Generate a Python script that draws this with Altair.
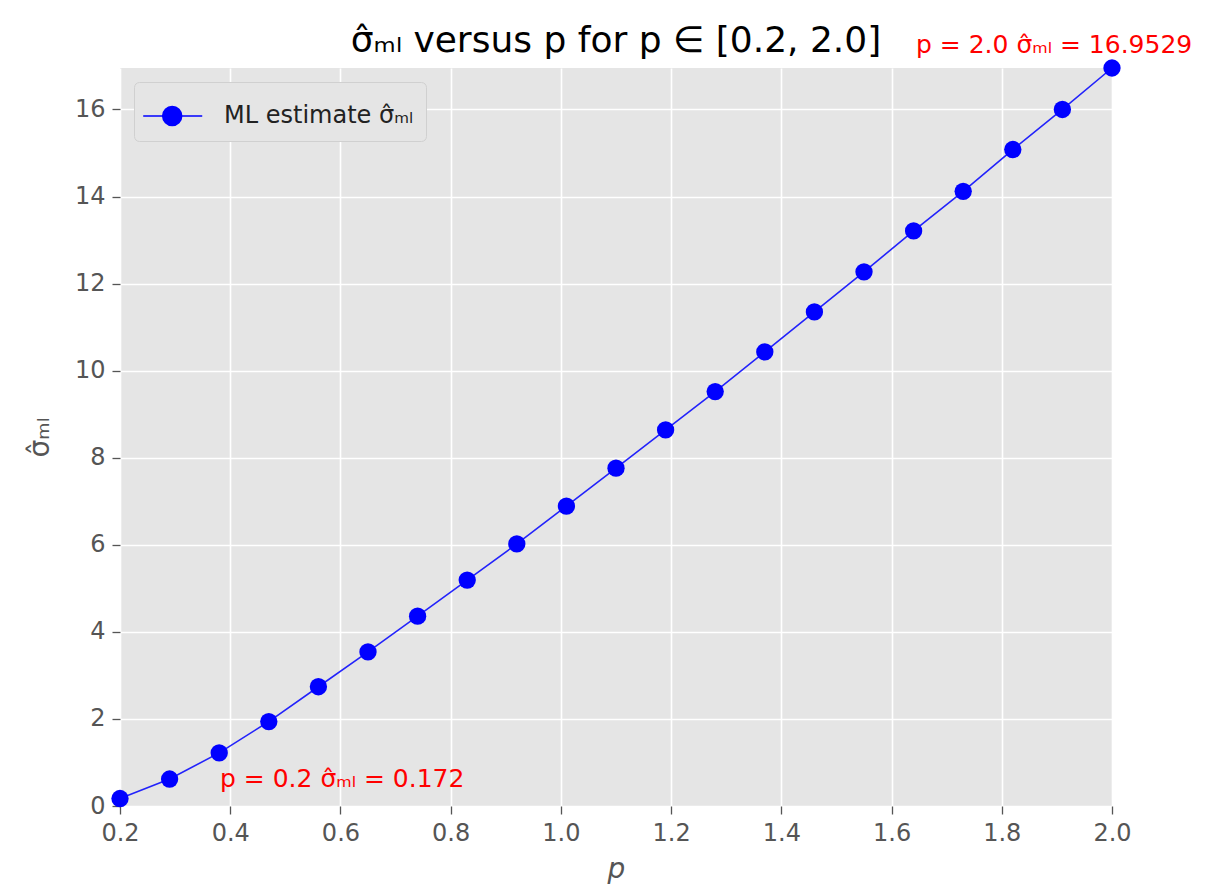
import altair as alt
import pandas as pd

p_vals = [0.2, 0.29, 0.38, 0.47, 0.56, 0.65, 0.74, 0.83, 0.92, 1.01, 1.10,
          1.19, 1.28, 1.37, 1.46, 1.55, 1.64, 1.73, 1.82, 1.91, 2.0]
sigma_vals = [0.172, 0.62, 1.22, 1.94, 2.74, 3.54, 4.36, 5.19, 6.02, 6.89, 7.76,
              8.64, 9.52, 10.43, 11.35, 12.27, 13.21, 14.12, 15.08, 16.0, 16.9529]
series_name = "ML estimate σ̂ₘₗ"
x_ticks = [0.2, 0.4, 0.6, 0.8, 1.0, 1.2, 1.4, 1.6, 1.8, 2.0]
y_ticks = [0, 2, 4, 6, 8, 10, 12, 14, 16]

df = pd.DataFrame({"p": p_vals, "sigma": sigma_vals, "series": series_name})
first = pd.DataFrame({"p": [p_vals[0]], "sigma": [sigma_vals[0]],
                      "label": [f"p = {p_vals[0]} σ̂ₘₗ = {sigma_vals[0]}"]})
last = pd.DataFrame({"p": [p_vals[-1]], "sigma": [sigma_vals[-1]],
                     "label": [f"p = {p_vals[-1]} σ̂ₘₗ = {sigma_vals[-1]}"]})

FONT = "DejaVu Sans"
xscale = alt.Scale(domain=[0.2, 2.0], nice=False, zero=False)
yscale = alt.Scale(domain=[0, 16.9529], nice=False)
color = alt.Color(
    "series:N",
    scale=alt.Scale(domain=[series_name], range=["#0000ff"]),
    legend=alt.Legend(
        title=None, orient="none", legendX=14, legendY=14,
        symbolType="M-1.18,0L1.63,0M-0.25,0A0.45,0.45,0,1,1,0.65,0A0.45,0.45,0,1,1,-0.25,0Z",
        symbolSize=1764, symbolStrokeWidth=1.6, symbolStrokeColor="#0000ff",
        symbolFillColor="#0000ff", symbolOpacity=1,
        labelOffset=34, labelFontSize=24, labelFont=FONT, labelColor="#222222",
        labelLimit=1000,
        padding=12, fillColor="#e5e5e5", strokeColor="#d0d0d0", cornerRadius=5,
    ),
)

x = alt.X("p:Q", scale=xscale, title="p",
          axis=alt.Axis(values=x_ticks, format=".1f", titleFontStyle="italic",
                        labelFlush=False))
y = alt.Y("sigma:Q", scale=yscale, title="σ̂ₘₗ",
          axis=alt.Axis(values=y_ticks, format="d", labelFlush=False))

line = alt.Chart(df).mark_line(strokeWidth=1.6, opacity=0.85).encode(x=x, y=y, color=color)
points = alt.Chart(df).mark_point(filled=True, size=300, opacity=1).encode(x=x, y=y, color=color)

ann_first = alt.Chart(first).mark_text(
    align="left", baseline="middle", dx=100, dy=-20, fontSize=25, font=FONT, color="#ff0000"
).encode(x="p:Q", y="sigma:Q", text="label:N")
ann_last = alt.Chart(last).mark_text(
    align="left", baseline="middle", dx=-196, dy=-23, fontSize=25, font=FONT, color="#ff0000"
).encode(x="p:Q", y="sigma:Q", text="label:N")

chart = alt.layer(line, points, ann_first, ann_last).properties(
    width=992, height=738,
    title=alt.TitleParams("σ̂ₘₗ versus p for p ∈ [0.2, 2.0]", fontSize=36, font=FONT,
                          fontWeight="normal", color="#000000", anchor="middle",
                          offset=10, dy=37),
    autosize=alt.AutoSizeParams(type="none"),
    padding={"left": 112, "top": 60, "right": 106, "bottom": 84},
).configure_view(
    fill="#e5e5e5", stroke=None
).configure_axis(
    grid=True, gridColor="#ffffff", gridWidth=1.6, domain=False,
    tickColor="#555555", tickSize=8, tickWidth=1.3,
    labelColor="#555555", labelFontSize=24, labelFont=FONT, labelPadding=7,
    titleColor="#555555", titleFontSize=28, titleFont=FONT, titleFontWeight="normal",
).configure_axisX(titlePadding=10).configure_axisY(titlePadding=20)

chart.save("out.html", embed_options={"renderer": "svg", "actions": False})
